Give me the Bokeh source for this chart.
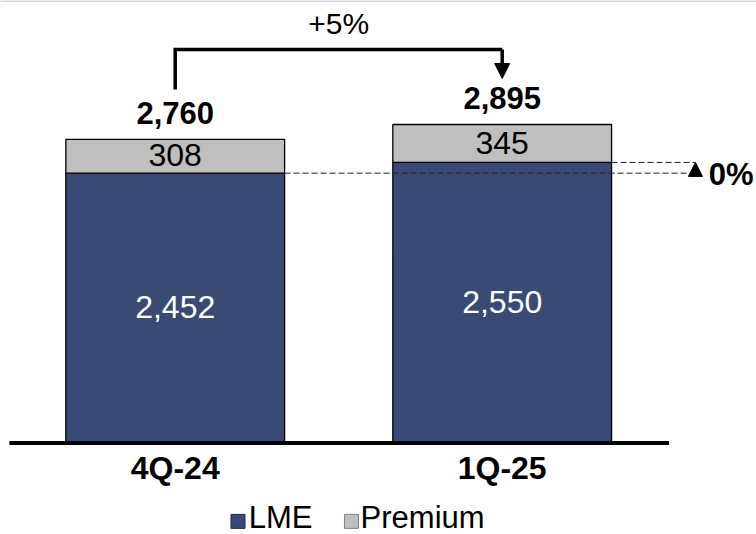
from bokeh.plotting import figure
from bokeh.models import Range1d, Arrow, NormalHead
from bokeh.core.properties import value
from bokeh.embed import file_html
from bokeh.resources import INLINE

# ---- data ----
categories = ["4Q-24", "1Q-25"]
lme = [2452, 2550]
premium = [308, 345]
totals = [l + q for l, q in zip(lme, premium)]   # 2760, 2895
total_change = "+5%"
lme_change = "0%"
legend_labels = ["LME", "Premium"]

# ---- styles ----
LME_COLOR = "#3B4A75"
PREM_COLOR = "#BFBFBF"
FONT = value("Liberation Sans")
TS = 100  # text baseline correction for svg rendering

xs = list(range(len(categories)))
bw = 0.669

p = figure(width=756, height=534, output_backend="svg", toolbar_location=None,
           x_range=Range1d(-0.5343, 1.7777), y_range=Range1d(-837.6, 4024.0),
           min_border=0)
p.axis.visible = False
p.grid.visible = False
p.outline_line_color = None
p.background_fill_color = "white"
p.border_fill_color = "white"

# thin frame line at the very top
p.segment(x0=[-0.6], y0=[4019], x1=[1.9], y1=[4019], line_color="#D3D3E2", line_width=2)

# stacked bars
p.vbar(x=xs, width=bw, bottom=0, top=lme, fill_color=LME_COLOR,
       line_color="black", line_width=1.3)
p.vbar(x=xs, width=bw, bottom=lme, top=totals, fill_color=PREM_COLOR,
       line_color="black", line_width=1.3)

# baseline
p.segment(x0=[-0.507], y0=[-5], x1=[1.51], y1=[-5], line_color="black", line_width=4)

# dashed comparison lines + up triangle
dash_end = 1.591
p.line([xs[0] + bw / 2, dash_end], [lme[0], lme[0]], line_dash="6 3",
       line_color="#222222", line_width=1)
p.line([xs[1] + bw / 2, dash_end], [lme[1], lme[1]], line_dash="6 3",
       line_color="#222222", line_width=1)
p.add_layout(Arrow(end=NormalHead(size=14, fill_color="black", line_color="black"),
                   x_start=dash_end, y_start=lme[0] - 60, x_end=dash_end, y_end=lme[1],
                   line_alpha=0))
p.text(x=[dash_end + 0.041], y=[lme[0] - 112 + TS], text=[lme_change], text_align="left",
       text_baseline="alphabetic", text_font=FONT, text_font_style="bold",
       text_font_size="31px", text_color="black")

# bracket arrow for total change
bracket_top = max(totals) + 683
p.line([xs[0], xs[0], xs[1]], [totals[0] + 454, bracket_top, bracket_top],
       line_color="black", line_width=3.5, line_join="miter")
p.add_layout(Arrow(end=NormalHead(size=15, fill_color="black", line_color="black"),
                   x_start=xs[1], y_start=bracket_top, x_end=xs[1], y_end=totals[1] + 419,
                   line_width=3.5, line_color="black"))
p.text(x=[(xs[0] + xs[1]) / 2], y=[bracket_top + 134 + TS], text=[total_change],
       text_align="center", text_baseline="alphabetic", text_font=FONT,
       text_font_size="30px", text_color="black")

# totals
p.text(x=xs, y=[t + 137 + TS for t in totals], text=[f"{t:,}" for t in totals],
       text_align="center", text_baseline="alphabetic", text_font=FONT,
       text_font_style="bold", text_font_size="31px", text_color="black")
# premium labels
p.text(x=xs, y=[l + q / 2 - 92 + TS for l, q in zip(lme, premium)],
       text=[f"{q:,}" for q in premium], text_align="center",
       text_baseline="alphabetic", text_font=FONT, text_font_size="32px",
       text_color="black")
# lme labels
p.text(x=xs, y=[l / 2 - 94 + TS for l in lme], text=[f"{l:,}" for l in lme],
       text_align="center", text_baseline="alphabetic", text_font=FONT,
       text_font_size="32px", text_color="white")

# category labels
p.text(x=xs, y=[-330 + TS] * len(xs), text=categories, text_align="center",
       text_baseline="alphabetic", text_font=FONT, text_font_style="bold",
       text_font_size="32px", text_color="black")

# legend
p.scatter(x=[0.192, 0.539], y=[-718, -718], marker="square", size=14,
          fill_color=[LME_COLOR, PREM_COLOR], line_color=["#1F2A4A", "#808080"],
          line_width=1)
p.text(x=[0.225, 0.567], y=[-785 + TS, -785 + TS], text=legend_labels, text_align="left",
       text_baseline="alphabetic", text_font=FONT, text_font_size="31px",
       text_color="black")

open("out.html", "w").write(file_html(p, INLINE))
